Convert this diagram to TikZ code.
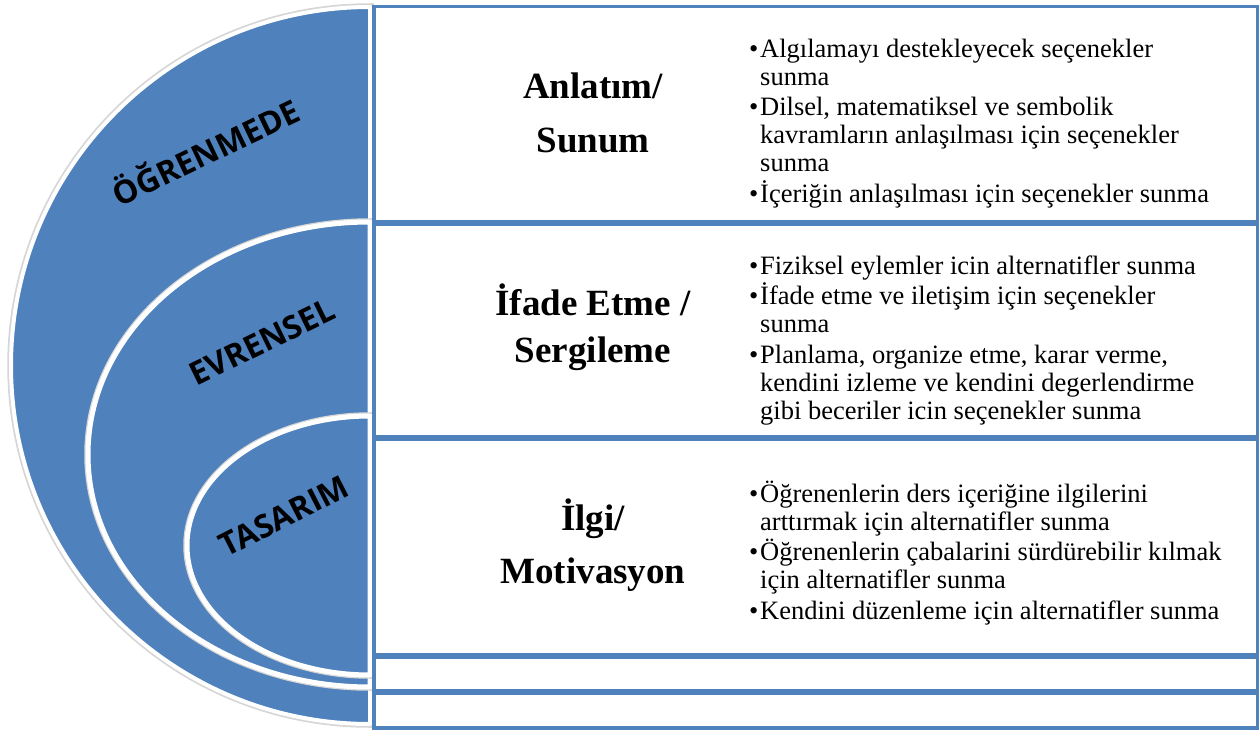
\documentclass[tikz,border=0pt]{standalone}
\usepackage{fontspec}
\setmainfont{Liberation Serif}
\newfontfamily\lblfont{Open Sans}
\definecolor{ublue}{HTML}{4F81BD}
\newcommand\listfont{\fontsize{26.5}{28}\selectfont}
\newcommand\bitem[1]{\noindent\hangindent=11pt\hangafter=1\makebox[11pt][l]{•}#1\par}
\newcommand\isep{\vspace{2.5pt}}
\tikzset{
  ring/.style={fill=ublue, draw=white, line width=5pt, line join=round,
    preaction={draw=black!16, line width=7.5pt}},
  boxframe/.style={draw=ublue, line width=3.5pt, fill=white},
  ttl/.style={anchor=base, inner sep=0pt, font=\fontsize{37}{44}\selectfont\bfseries},
  lst/.style={anchor=base west, inner sep=0pt},
  lbl/.style={inner sep=0pt, font=\lblfont\bfseries\fontsize{32}{36}\selectfont},
}
\begin{document}
\begin{tikzpicture}[x=1pt,y=-1pt]
\useasboundingbox (0,0) rectangle (1259,731);
% nested half ellipses
\path[ring, line width=4pt] (370,7) arc[start angle=270, end angle=90, x radius=359, y radius=358.5] -- cycle;
\path[ring] (370,222) arc[start angle=270, end angle=90, x radius=282, y radius=232.5] -- cycle;
\path[ring] (370,416) arc[start angle=270, end angle=90, x radius=183, y radius=129.5] -- cycle;
% labels
\node[lbl, rotate=25.5] (lo) at (205,150) {ÖĞRENMEDE};
\node[lbl, rotate=26] (le) at (262,342) {EVRENSEL};
\node[lbl, rotate=27] (lt) at (284,516) {TASARIM};
% boxes
\node[boxframe, inner sep=0pt, minimum width=884pt, minimum height=215pt, anchor=north west] (b1) at (372,4.5) {};
\node[boxframe, inner sep=0pt, minimum width=884pt, minimum height=212pt, anchor=north west] (b2) at (372,222.5) {};
\node[boxframe, inner sep=0pt, minimum width=884pt, minimum height=215pt, anchor=north west] (b3) at (372,437.5) {};
\node[boxframe, inner sep=0pt, minimum width=884pt, minimum height=33pt, anchor=north west] (b4) at (372,655.5) {};
\node[boxframe, inner sep=0pt, minimum width=884pt, minimum height=35pt, anchor=north west] (b5) at (372,691) {};
% titles
\node[ttl] (t1a) at (593,98) {Anlatım/};
\node[ttl] (t1b) at (593,152) {Sunum};
\node[ttl] (t2a) at (593,315) {İfade Etme /};
\node[ttl] (t2b) at (593,362) {Sergileme};
\node[ttl] (t3a) at (593,530) {İlgi/};
\node[ttl] (t3b) at (593,583) {Motivasyon};
% lists
\node[lst] (l1) at (749,57) {\parbox[t]{500pt}{\listfont
\bitem{Algılamayı destekleyecek seçenekler\\sunma}\isep
\bitem{Dilsel, matematiksel ve sembolik\\kavramların anlaşılması için seçenekler\\sunma}\isep
\bitem{İçeriğin anlaşılması için seçenekler sunma}}};
\node[lst] (l2) at (749,274) {\parbox[t]{500pt}{\listfont
\bitem{Fiziksel eylemler icin alternatifler sunma}\isep
\bitem{İfade etme ve iletişim için seçenekler\\sunma}\isep
\bitem{Planlama, organize etme, karar verme,\\kendini izleme ve kendini degerlendirme\\gibi beceriler icin seçenekler sunma}}};
\node[lst] (l3) at (749,502) {\parbox[t]{500pt}{\listfont
\bitem{Öğrenenlerin ders içeriğine ilgilerini\\arttırmak için alternatifler sunma}\isep
\bitem{Öğrenenlerin çabalarini sürdürebilir kılmak\\için alternatifler sunma}\isep
\bitem{Kendini düzenleme için alternatifler sunma}}};
\end{tikzpicture}
\end{document}
